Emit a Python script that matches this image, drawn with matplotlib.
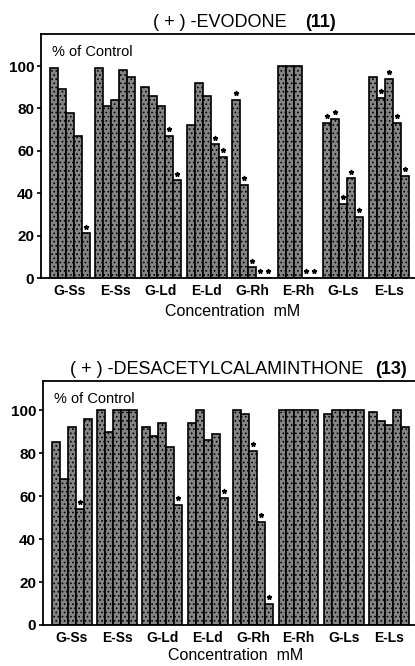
import matplotlib
matplotlib.use("Agg")
import matplotlib.pyplot as plt

plt.rcParams["font.family"] = ["Liberation Sans", "DejaVu Sans"]
plt.rcParams["hatch.linewidth"] = 0.7

GROUPS = ["G-Ss", "E-Ss", "G-Ld", "E-Ld", "G-Rh", "E-Rh", "G-Ls", "E-Ls"]

# % of control, 5 concentrations per group
EVODONE = [
    [99, 89, 78, 67, 21],
    [99, 81, 84, 98, 95],
    [90, 86, 81, 67, 46],
    [72, 92, 86, 63, 57],
    [84, 44, 5, 0, 0],
    [100, 100, 100, 0, 0],
    [73, 75, 35, 47, 29],
    [95, 85, 94, 73, 48],
]
EVODONE_SIG = [
    [0, 0, 0, 0, 1],
    [0, 0, 0, 0, 0],
    [0, 0, 0, 1, 1],
    [0, 0, 0, 1, 1],
    [1, 1, 1, 1, 1],
    [0, 0, 0, 1, 1],
    [1, 1, 1, 1, 1],
    [0, 1, 1, 1, 1],
]

DESACETYL = [
    [85, 68, 92, 54, 96],
    [100, 90, 100, 100, 100],
    [92, 88, 94, 83, 56],
    [94, 100, 86, 89, 59],
    [100, 98, 81, 48, 10],
    [100, 100, 100, 100, 100],
    [98, 100, 100, 100, 100],
    [99, 95, 93, 100, 92],
]
DESACETYL_SIG = [
    [0, 0, 0, 1, 0],
    [0, 0, 0, 0, 0],
    [0, 0, 0, 0, 1],
    [0, 0, 0, 0, 1],
    [0, 0, 1, 1, 1],
    [0, 0, 0, 0, 0],
    [0, 0, 0, 0, 0],
    [0, 0, 0, 0, 0],
]

PITCH = 5.7


def draw_panel(ax, values, sig, ytop, name, num, name_right, num_left):
    xs, hs, stars_x, stars_y = [], [], [], []
    for i, grp in enumerate(values):
        for j, v in enumerate(grp):
            x = i * PITCH + j
            xs.append(x)
            hs.append(v)
            if sig[i][j]:
                stars_x.append(x)
                stars_y.append(v + 3.2)
    ax.bar(xs, hs, width=1.0, color="#858585", edgecolor="black",
           linewidth=1.2, hatch="....")
    ax.plot(stars_x, stars_y, linestyle="none", marker="*", markersize=3.5,
            color="black")

    ax.set_xlim(-1.6, 7 * PITCH + 4.5 + 0.75)
    ax.set_ylim(0, ytop)
    ax.set_yticks([0, 20, 40, 60, 80, 100])
    ax.set_xticks([i * PITCH + 2 for i in range(len(GROUPS))])
    ax.set_xticklabels(GROUPS, fontsize=10, fontweight="bold")
    ax.tick_params(axis="x", length=0, pad=4)
    ax.tick_params(axis="y", length=3, width=1.2, labelsize=11, pad=2)
    for lab in ax.get_yticklabels():
        lab.set_fontweight("bold")
    for s in ax.spines.values():
        s.set_linewidth(1.3)
    ax.spines["right"].set_visible(False)

    ax.text(0.03, 0.955, "% of Control", transform=ax.transAxes,
            fontsize=10.5, va="top", ha="left")
    ax.text(name_right, 1.012, name, transform=ax.transAxes, fontsize=13,
            ha="right", va="bottom")
    ax.text(num_left, 1.012, num, transform=ax.transAxes, fontsize=13,
            ha="left", va="bottom", fontweight="bold")


def main():
    fig = plt.figure(figsize=(4.15, 6.66), dpi=100)
    ax1 = fig.add_axes([41 / 415, 1 - 278 / 666, 374 / 415, 244 / 666])
    ax2 = fig.add_axes([43 / 415, 1 - 625 / 666, 372 / 415, 244 / 666])

    draw_panel(ax1, EVODONE, EVODONE_SIG, 115.1,
               "( + ) -EVODONE", "(11)", 0.658, 0.706)
    draw_panel(ax2, DESACETYL, DESACETYL_SIG, 113.5,
               "( + ) -DESACETYLCALAMINTHONE", "(13)", 0.86, 0.892)

    fig.text(233 / 415, 1 - 312 / 666, "Concentration  mM", fontsize=11.5,
             ha="center", va="center")
    fig.text(236 / 415, 1 - 656 / 666, "Concentration  mM", fontsize=11.5,
             ha="center", va="center")

    fig.savefig("out.png", dpi=100)


if __name__ == "__main__":
    main()
